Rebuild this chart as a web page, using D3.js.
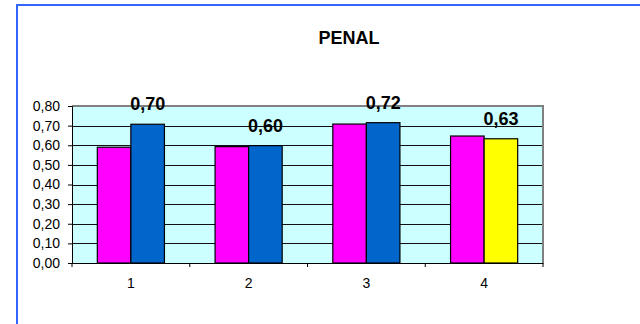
<!DOCTYPE html>
<html><head><meta charset="utf-8">
<script src="https://cdn.jsdelivr.net/npm/d3@7"></script>
<style>body{margin:0;background:#fff;}svg{display:block;font-family:Arial,"Liberation Sans",sans-serif;}</style>
</head><body><svg id="c" width="640" height="324"></svg>
<script>
const categories = ["1", "2", "3", "4"];
const seriesA = [0.59, 0.593, 0.708, 0.647];
const seriesB = [0.707, 0.598, 0.715, 0.633];
const seriesBColors = ["#0066CC", "#0066CC", "#0066CC", "#FFFF00"];
const valueLabels = ["0,70", "0,60", "0,72", "0,63"];
const yTicks = [0, 0.1, 0.2, 0.3, 0.4, 0.5, 0.6, 0.7, 0.8];
const title = "PENAL";

const svg = d3.select("#c");
const L = 72, R = 543, T = 106, B = 263;

// outer frame
svg.append("path").attr("d", "M17,330 V5 H650").attr("fill", "none")
  .attr("stroke", "#3366FF").attr("stroke-width", 2);

const x = d3.scaleBand().domain(categories).range([L, R]);
const y = d3.scaleLinear().domain([0, 0.8]).range([B, T]);
const bw = x.bandwidth() * 0.285;

svg.append("rect").attr("x", L).attr("y", T).attr("width", R - L).attr("height", B - T)
  .attr("fill", "#CCFFFF");

svg.append("g").selectAll("line").data(yTicks.slice(1)).join("line")
  .attr("x1", L).attr("x2", R)
  .attr("y1", d => Math.round(y(d)) + 0.5).attr("y2", d => Math.round(y(d)) + 0.5)
  .attr("stroke", "#111").attr("stroke-width", 1);

svg.append("path").attr("d", `M${L},${T}H${R}V${B}`).attr("fill", "none")
  .attr("stroke", "#808080").attr("stroke-width", 2);

const g = svg.append("g");
categories.forEach((c, i) => {
  const cx = x(c) + x.bandwidth() / 2;
  g.append("rect").attr("x", cx - bw).attr("y", y(seriesA[i])).attr("width", bw)
    .attr("height", B - y(seriesA[i])).attr("fill", "#FF00FF").attr("stroke", "#000").attr("stroke-width", 1.2);
  g.append("rect").attr("x", cx).attr("y", y(seriesB[i])).attr("width", bw)
    .attr("height", B - y(seriesB[i])).attr("fill", seriesBColors[i]).attr("stroke", "#000").attr("stroke-width", 1.2);
  g.append("text").attr("x", cx + bw / 2).attr("y", y(seriesB[i]) - 14)
    .attr("text-anchor", "middle").style("font-size", "18px").attr("font-weight", "bold")
    .attr("fill", "#000").text(valueLabels[i]);
});

const fmt = d => d3.format(".2f")(d).replace(".", ",");
const yAxis = svg.append("g").attr("transform", `translate(${L},0)`)
  .call(d3.axisLeft(y).tickValues(yTicks).tickFormat(fmt).tickSize(4).tickPadding(8));
yAxis.select(".domain").attr("stroke", "#000");
yAxis.selectAll("text").style("font-size", "14px").style("font-family", "Arial, 'Liberation Sans', sans-serif").attr("fill", "#000");

const xAxis = svg.append("g").attr("transform", `translate(0,${B})`)
  .call(d3.axisBottom(x).tickSize(0).tickPadding(15));
xAxis.select(".domain").attr("stroke", "#000");
xAxis.selectAll("text").style("font-size", "14px").style("font-family", "Arial, 'Liberation Sans', sans-serif").attr("fill", "#000");
xAxis.selectAll("line.bnd").data(d3.range(categories.length + 1)).join("line").attr("class", "bnd")
  .attr("x1", i => L + i * x.bandwidth()).attr("x2", i => L + i * x.bandwidth())
  .attr("y1", 0).attr("y2", 4).attr("stroke", "#000");

svg.append("text").attr("x", 349).attr("y", 44).attr("text-anchor", "middle")
  .style("font-size", "18px").attr("font-weight", "bold").attr("fill", "#000").text(title);
</script></body></html>
